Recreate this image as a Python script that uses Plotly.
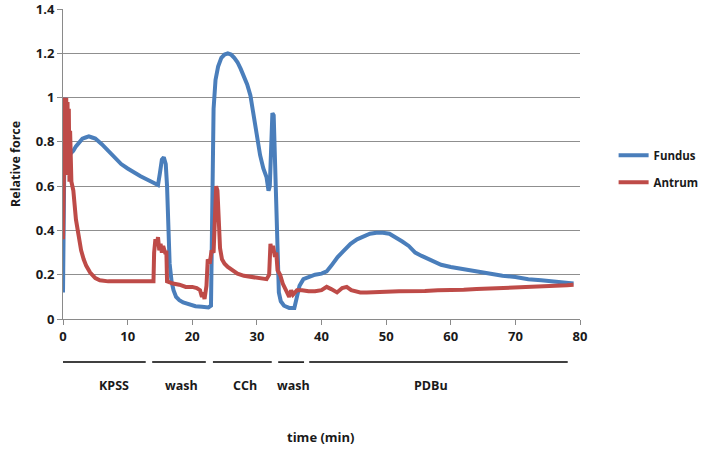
import plotly.graph_objects as go

# ---- data ----
fundus_t = [0, 0.1, 0.2, 0.3, 0.5, 0.7, 0.9, 1.3, 1.6, 2.0, 2.5, 3.0, 3.5, 4.0, 4.5, 5.0, 6.0, 7.0, 8.0,
            9.0, 10.0, 11.0, 12.0, 13.0, 14.0, 14.7, 15.0, 15.3, 15.6, 15.9, 16.1, 16.3, 16.5, 16.8,
            17.1, 17.5, 18.0, 18.6, 19.5, 20.5, 21.5, 22.5, 22.9, 23.1, 23.3, 23.6, 24.0, 24.5, 25.0,
            25.5, 26.0, 26.5, 27.0, 27.5, 28.0, 28.5, 29.0, 29.5, 30.0, 30.5, 31.0, 31.5, 31.8, 32.0,
            32.2, 32.4, 32.6, 32.8, 33.0, 33.2, 33.4, 33.7, 34.2, 35.0, 35.8, 36.2, 36.6, 37.2, 38.0,
            39.0, 40.0, 40.8, 41.5, 42.5, 43.5, 44.5, 45.5, 46.5, 47.5, 48.5, 49.5, 50.5, 51.5, 52.5,
            53.5, 54.5, 55.5, 57, 58.5, 60, 62, 64, 66, 68, 70, 72, 74, 76, 78, 79]
fundus_v = [0.12, 0.6, 0.95, 1.0, 0.85, 0.72, 0.74, 0.75, 0.76, 0.78, 0.80, 0.815, 0.82, 0.825, 0.82,
            0.815, 0.79, 0.76, 0.73, 0.70, 0.68, 0.66, 0.645, 0.63, 0.615, 0.605, 0.66, 0.72, 0.73,
            0.70, 0.60, 0.40, 0.25, 0.17, 0.13, 0.10, 0.085, 0.075, 0.065, 0.058, 0.055, 0.052, 0.06,
            0.50, 0.95, 1.08, 1.14, 1.18, 1.195, 1.20, 1.195, 1.18, 1.16, 1.13, 1.10, 1.06, 1.01,
            0.93, 0.83, 0.74, 0.68, 0.64, 0.58, 0.60, 0.75, 0.93, 0.92, 0.70, 0.45, 0.20, 0.12, 0.08,
            0.06, 0.05, 0.05, 0.10, 0.15, 0.18, 0.19, 0.20, 0.205, 0.215, 0.24, 0.28, 0.31, 0.34,
            0.36, 0.375, 0.385, 0.39, 0.39, 0.385, 0.37, 0.35, 0.33, 0.30, 0.285, 0.265, 0.245,
            0.235, 0.225, 0.215, 0.205, 0.195, 0.19, 0.18, 0.175, 0.17, 0.165, 0.16]

antrum_t = [0, 0.1, 0.2, 0.3, 0.4, 0.5, 0.6, 0.7, 0.8, 0.9, 1.0, 1.1, 1.3, 1.6, 2.0, 2.4, 2.8, 3.2, 3.6,
            4.2, 5.0, 5.7, 7, 9, 11, 13, 14.0, 14.1, 14.3, 14.5, 14.7, 14.9, 15.1, 15.3, 15.5, 15.8,
            16.0, 16.1, 16.4, 17, 18, 19, 20, 20.7, 21.2, 21.5, 21.7, 21.9, 22.2, 22.4, 22.7, 23.0,
            23.3, 23.5, 23.7, 23.9, 24.1, 24.3, 24.6, 25.0, 25.5, 26.3, 27, 28, 29, 30, 31, 31.5,
            31.9, 32.1, 32.3, 32.5, 32.8, 33.0, 33.2, 33.6, 34.0, 34.5, 35.0, 35.3, 35.6, 36.2, 37,
            38, 39, 40, 40.8, 41.5, 42.4, 43.2, 43.9, 44.6, 45.3, 46, 47, 48, 50, 52, 54, 56, 58,
            60, 62, 64, 66, 68, 70, 72, 74, 76, 78, 79]
antrum_v = [0.36, 0.70, 0.95, 1.0, 0.75, 1.0, 0.65, 0.98, 0.70, 0.95, 0.62, 0.85, 0.62, 0.58, 0.45,
            0.37, 0.31, 0.27, 0.24, 0.21, 0.185, 0.175, 0.17, 0.17, 0.17, 0.17, 0.17, 0.30, 0.36,
            0.33, 0.37, 0.31, 0.34, 0.30, 0.33, 0.30, 0.30, 0.17, 0.165, 0.16, 0.155, 0.145, 0.145,
            0.14, 0.13, 0.10, 0.12, 0.09, 0.15, 0.27, 0.25, 0.31, 0.30, 0.45, 0.60, 0.58, 0.40, 0.32,
            0.27, 0.25, 0.235, 0.22, 0.205, 0.195, 0.19, 0.185, 0.18, 0.18, 0.20, 0.34, 0.30, 0.33,
            0.28, 0.30, 0.22, 0.20, 0.16, 0.13, 0.10, 0.13, 0.11, 0.13, 0.13, 0.125, 0.125, 0.13,
            0.145, 0.135, 0.12, 0.14, 0.145, 0.13, 0.125, 0.12, 0.12, 0.12, 0.123, 0.125, 0.125,
            0.127, 0.13, 0.13, 0.132, 0.135, 0.137, 0.14, 0.142, 0.145, 0.148, 0.15, 0.152, 0.155]

phase_labels = ["KPSS", "wash", "CCh", "wash", "PDBu"]
phase_start = [-0.5, 13.8, 23.2, 33.3, 38.1]
phase_end = [12.8, 22.1, 32.3, 37.3, 78.1]
phase_label_x = [7.9, 18.3, 28.2, 35.7, 56.9]

x_ticks = [0, 10, 20, 30, 40, 50, 60, 70, 80]
y_ticks = [0, 0.2, 0.4, 0.6, 0.8, 1.0, 1.2, 1.4]
y_tick_text = ["0", "0.2", "0.4", "0.6", "0.8", "1", "1.2", "1.4"]

BLUE = "#4A7EBB"
RED = "#BE4B48"
FAM = "Open Sans"
FONT = dict(family=FAM, size=13, color="#1a1a1a", weight="bold")
MID = dict(family=FAM, size=12.5, color="#1a1a1a", weight="bold")
LEG = dict(family=FAM, size=11.5, color="#1a1a1a", weight="bold")

fig = go.Figure()
fig.add_trace(go.Scatter(x=fundus_t, y=fundus_v, mode="lines", name="Fundus",
                         line=dict(color=BLUE, width=4), legendgroup="f"))
fig.add_trace(go.Scatter(x=antrum_t, y=antrum_v, mode="lines", name="Antrum",
                         line=dict(color=RED, width=4), legendgroup="a"))

line_y = -0.139
for s, e in zip(phase_start, phase_end):
    fig.add_shape(type="line", xref="x", yref="paper", x0=s, x1=e, y0=line_y, y1=line_y,
                  line=dict(color="black", width=1.5))
for lab, lx in zip(phase_labels, phase_label_x):
    fig.add_annotation(x=lx, y=-0.216, xref="x", yref="paper", text=lab, showarrow=False,
                       font=MID, xanchor="center", yanchor="middle")
fig.add_annotation(x=0.499, y=-0.381, xref="paper", yref="paper", text="time (min)", showarrow=False,
                   font=FONT, xanchor="center", yanchor="middle")
fig.add_annotation(x=-0.093, y=0.5, xref="paper", yref="paper", text="Relative force", showarrow=False,
                   font=MID, textangle=-90, xanchor="center", yanchor="middle")

fig.update_layout(
    width=707, height=451,
    margin=dict(l=63, r=127, t=9, b=132, autoexpand=False),
    paper_bgcolor="white", plot_bgcolor="white",
    font=FONT,
    showlegend=True,
    legend=dict(x=1.065, y=0.485, xanchor="left", yanchor="middle", traceorder="grouped",
                tracegroupgap=8, font=LEG, itemwidth=30,
                bgcolor="rgba(0,0,0,0)"),
)
fig.update_xaxes(range=[0, 80], tickvals=x_ticks, ticktext=[str(v) for v in x_ticks],
                 showgrid=False, zeroline=False, showline=True, linecolor="#8a8a8a", linewidth=1,
                 ticks="outside", ticklen=5, tickcolor="#8a8a8a", tickfont=FONT, automargin=False)
fig.update_yaxes(range=[0, 1.4005], tickvals=y_ticks, ticktext=y_tick_text,
                 showgrid=True, gridcolor="#8f8f8f", gridwidth=1, zeroline=False,
                 showline=True, linecolor="#8a8a8a", linewidth=1, ticklabeloverflow="allow",
                 ticks="outside", ticklen=5, tickcolor="#8a8a8a", tickfont=FONT, automargin=False)

# remove the page's default body margin so the 707x451 figure fills the window exactly
fig.write_html("out.html", config={"displayModeBar": False},
               post_script="document.body.style.margin='0';")
